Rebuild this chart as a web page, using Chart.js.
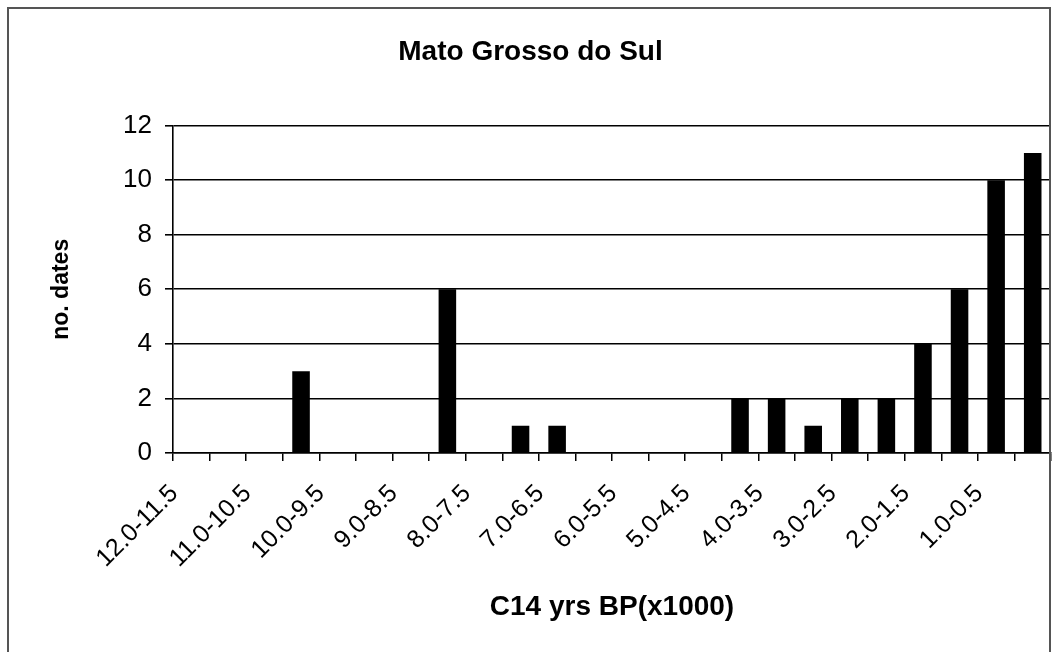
<!DOCTYPE html>
<html>
<head>
<meta charset="utf-8">
<script src="https://cdn.jsdelivr.net/npm/chart.js@4"></script>
<style>
  body { margin: 0; background: #fff; }
  #wrap { position: relative; width: 1058px; height: 652px; overflow: hidden; }
  #frame { position: absolute; left: 7px; top: 7px; width: 1044px; height: 700px; box-sizing: border-box; border: 2px solid #555; pointer-events: none; }
</style>
</head>
<body>
<div id="wrap">
  <canvas id="c" width="1058" height="652"></canvas>
  <div id="frame"></div>
</div>
<script>
const bins = ['12.0-11.5', '11.5-11.0', '11.0-10.5', '10.5-10.0', '10.0-9.5', '9.5-9.0',
    '9.0-8.5', '8.5-8.0', '8.0-7.5', '7.5-7.0', '7.0-6.5', '6.5-6.0',
    '6.0-5.5', '5.5-5.0', '5.0-4.5', '4.5-4.0', '4.0-3.5', '3.5-3.0',
    '3.0-2.5', '2.5-2.0', '2.0-1.5', '1.5-1.0', '1.0-0.5', '0.5-0.0'];
const counts = [0, 0, 0, 3, 0, 0, 0, 6, 0, 1, 1, 0, 0, 0, 0, 2, 2, 1, 2, 2, 4, 6, 10, 11];
const yTicks = [0, 2, 4, 6, 8, 10, 12];

const FONT = "'Liberation Sans', Arial, sans-serif";

new Chart(document.getElementById('c'), {
    type: 'bar',
    data: {
        labels: bins,
        datasets: [{ data: counts, backgroundColor: '#000', borderWidth: 0, barPercentage: 0.48, categoryPercentage: 1 }]
    },
    options: {
        responsive: false,
        animation: false,
        layout: { padding: { left: 10, right: 7, top: 0, bottom: 0 } },
        plugins: {
            legend: { display: false },
            tooltip: { enabled: false },
            title: {
                display: true,
                text: 'Mato Grosso do Sul',
                color: '#000',
                font: { family: FONT, size: 28, weight: 'bold', lineHeight: 1.2 },
                padding: { top: 35, bottom: 57 }
            }
        },
        scales: {
            x: {
                afterFit: (s) => { s.height = 199; s.paddingLeft = 0; s.paddingRight = 0; },
                grid: { display: true, drawOnChartArea: false, drawTicks: true, tickLength: 8, color: '#000', lineWidth: 1.5, offset: true },
                border: { color: '#000', width: 1.5 },
                ticks: {
                    autoSkip: false, maxRotation: 45, minRotation: 45, padding: 18, labelOffset: -17,
                    color: '#000', font: { family: FONT, size: 25 },
                    callback: (v, i) => i % 2 === 0 ? bins[i] : ''
                },
                title: {
                    display: true, text: 'C14 yrs BP(x1000)', color: '#000',
                    font: { family: FONT, size: 28, weight: 'bold', lineHeight: 1.2 },
                    padding: { top: 0, bottom: 28 }
                }
            },
            y: {
                min: yTicks[0],
                max: yTicks[yTicks.length - 1],
                afterFit: (s) => { s.width = 163; },
                afterBuildTicks: (s) => { s.ticks = yTicks.map(v => ({ value: v })); },
                grid: { color: '#000', lineWidth: 1.6, tickLength: 8 },
                border: { color: '#000', width: 1.6 },
                ticks: { color: '#000', padding: 13, font: { family: FONT, size: 26 } },
                title: {
                    display: true, text: 'no. dates', color: '#000',
                    font: { family: FONT, size: 23, weight: 'bold', lineHeight: 1.2 },
                    padding: { top: 38, bottom: 0 }
                }
            }
        }
    }
});
</script>
</body>
</html>
